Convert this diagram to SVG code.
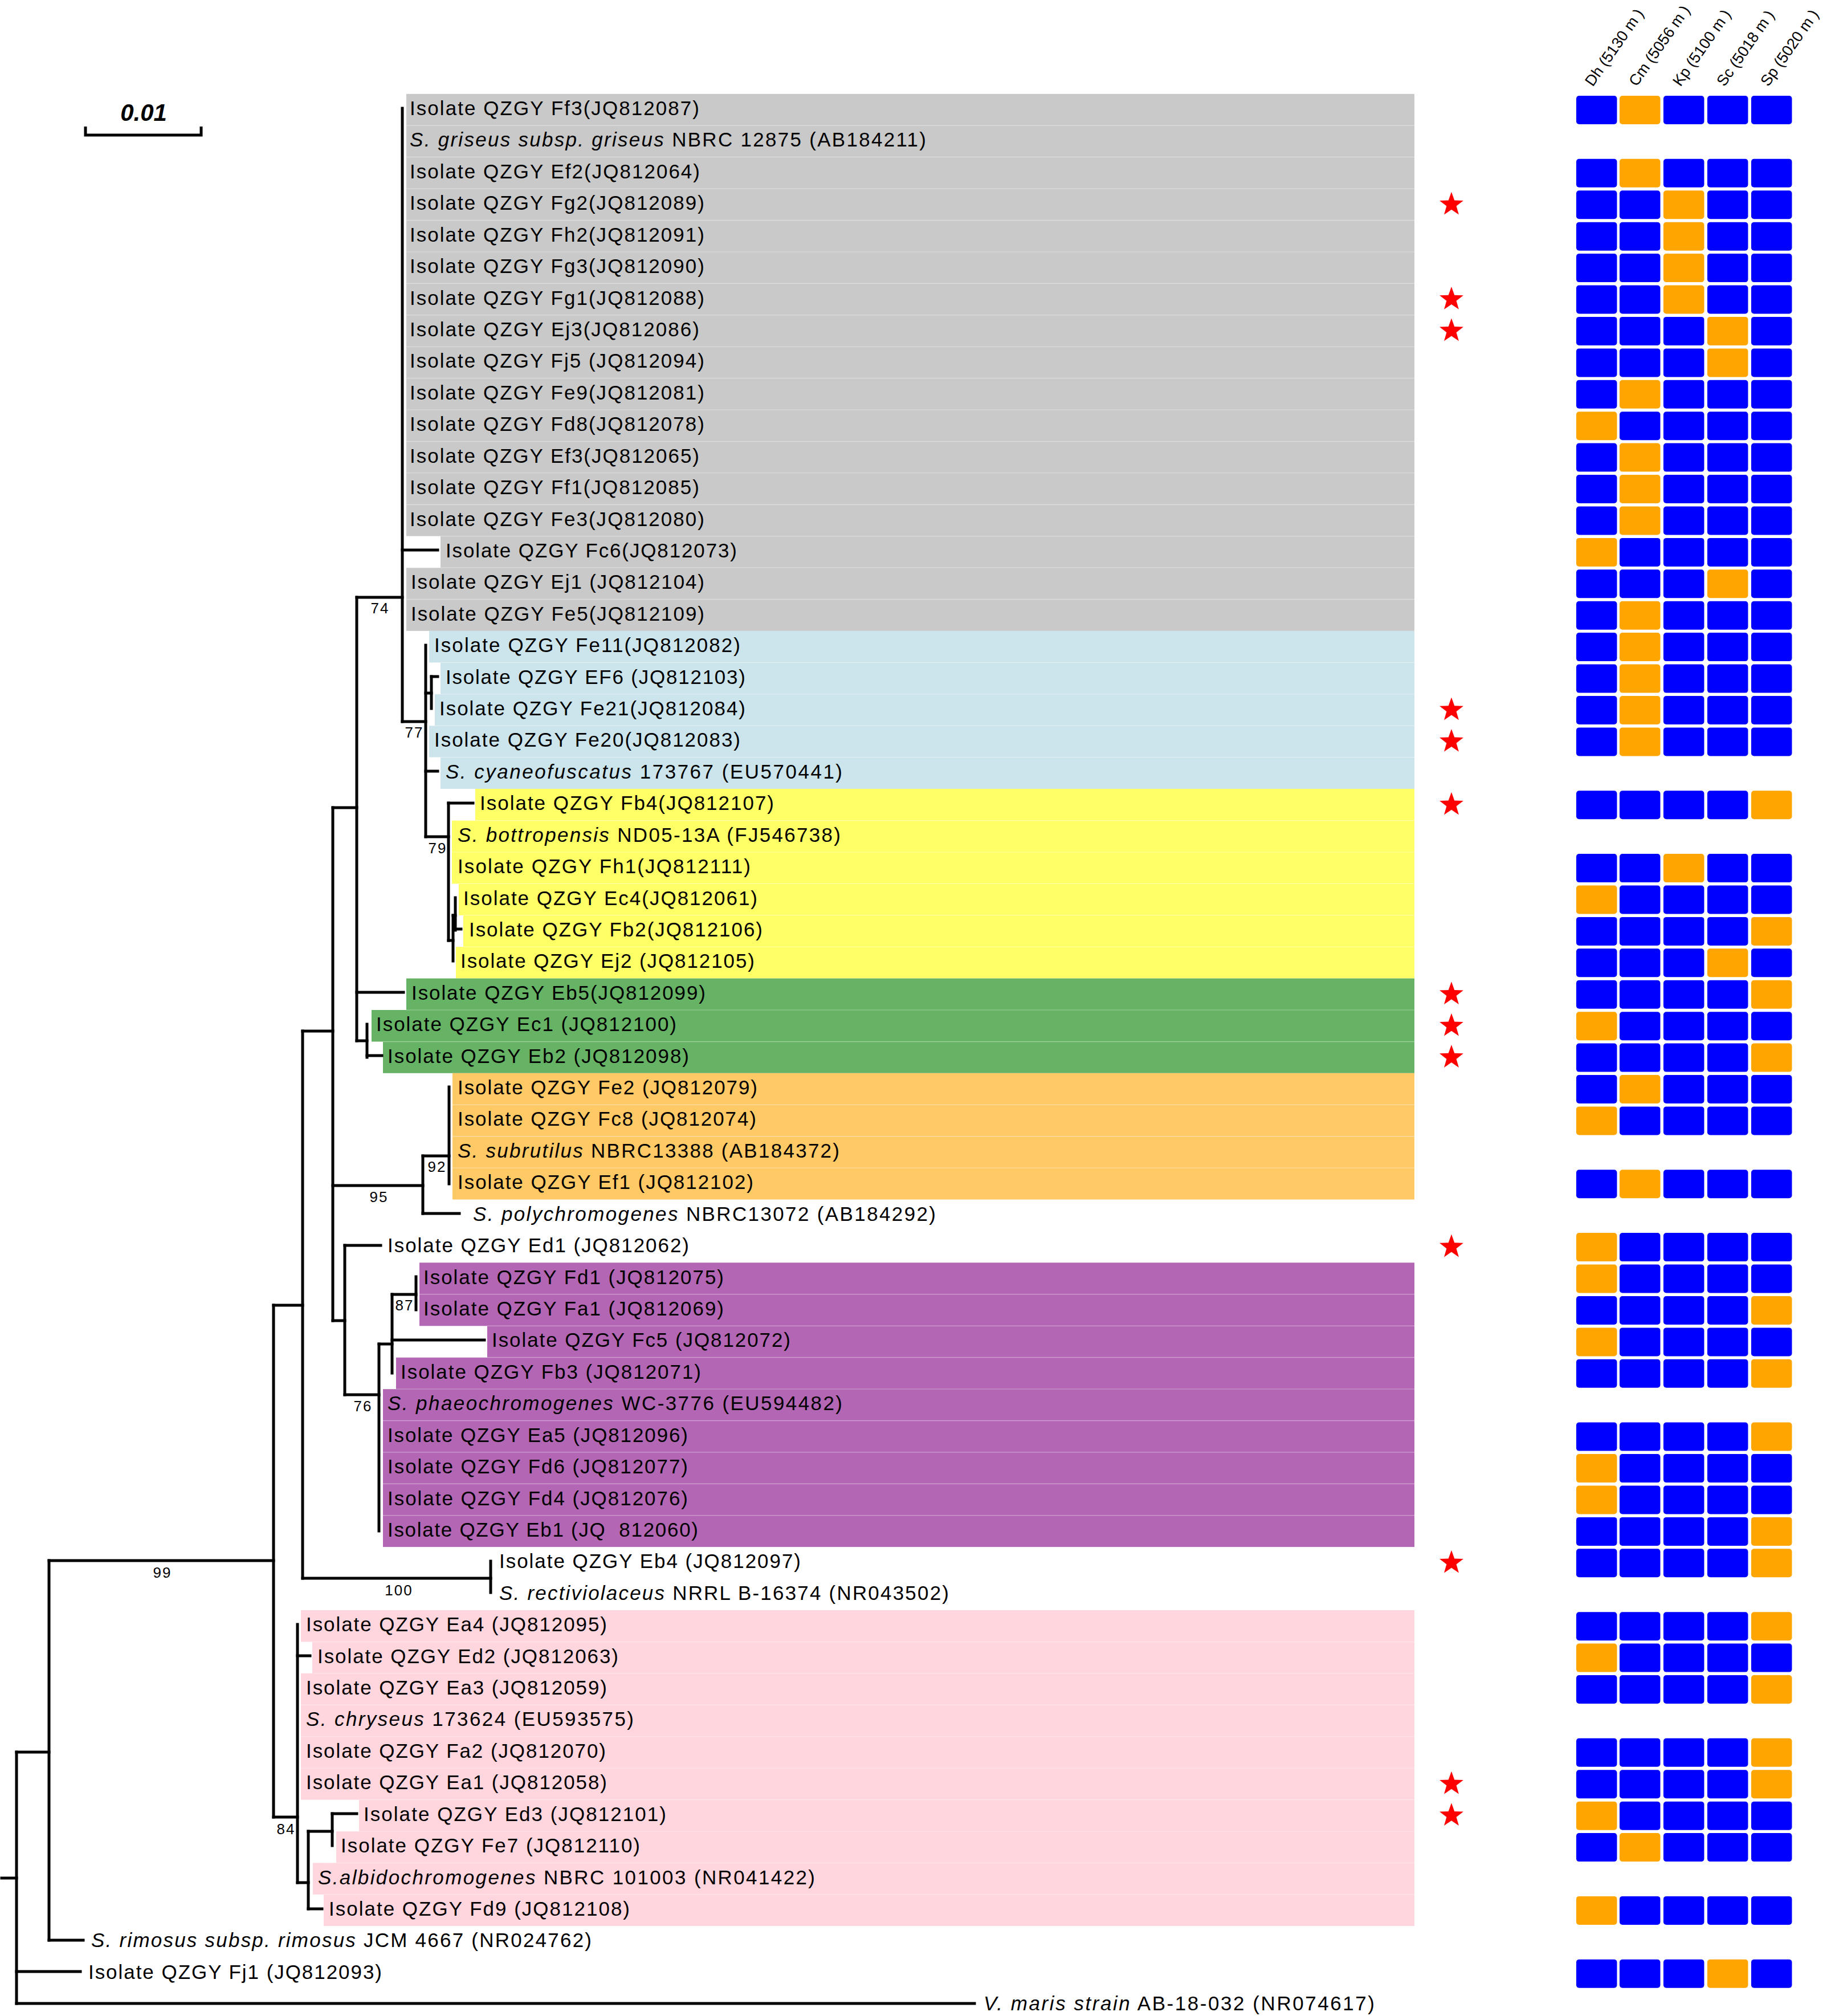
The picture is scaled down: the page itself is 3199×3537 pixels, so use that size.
<svg xmlns="http://www.w3.org/2000/svg" width="3199" height="3537" viewBox="0 0 3199 3537">
<style>
text{font-family:"Liberation Sans",Arial,sans-serif;fill:#000}
.lb{font-size:35px}
.i{font-style:italic}
.bs{font-size:26px;letter-spacing:2px;text-anchor:middle}
.hd{font-size:27px}
.tree path{fill:none;stroke:#000;stroke-width:5;stroke-linecap:square}
.gy{fill:#c9c9c9}.lbl{fill:#cce5ec}.yl{fill:#ffff66}.gn{fill:#66b366}.or{fill:#ffc966}.pu{fill:#b366b3}.pk{fill:#ffd6dd}
.b{fill:#0000ff}.o{fill:#ffa500}
.sep{stroke:#ffffff;stroke-opacity:0.25;stroke-width:1.5}
.star{fill:#ff0000}
</style>
<defs>
<polygon id="star" points="0,-22 5.29,-7.28 20.92,-6.8 8.56,2.78 12.93,17.8 0,9 -12.93,17.8 -8.56,2.78 -20.92,-6.8 -5.29,-7.28"/>
</defs>
<rect x="0" y="0" width="3199" height="3537" fill="#fff"/>

<g id="scale-bar">
<path d="M150,222 V237 H353 V222" fill="none" stroke="#000" stroke-width="5"/>
<text x="252" y="212" font-size="42" font-weight="bold" font-style="italic" text-anchor="middle">0.01</text>
</g>

<g id="header">
<text class="hd" transform="translate(2795,153) rotate(-55)">Dh (5130 m )</text>
<text class="hd" transform="translate(2872,153) rotate(-55)">Cm (5056 m )</text>
<text class="hd" transform="translate(2949,153) rotate(-55)">Kp (5100 m )</text>
<text class="hd" transform="translate(3026,153) rotate(-55)">Sc (5018 m )</text>
<text class="hd" transform="translate(3103,153) rotate(-55)">Sp (5020 m )</text>
</g>

<g id="bands">
<rect class="gy" x="713" y="164.8" width="1769" height="55.5"/>
<rect class="gy" x="713" y="220.2" width="1769" height="55.5"/>
<rect class="gy" x="713" y="275.6" width="1769" height="55.5"/>
<rect class="gy" x="713" y="331.1" width="1769" height="55.5"/>
<rect class="gy" x="713" y="386.5" width="1769" height="55.5"/>
<rect class="gy" x="713" y="441.9" width="1769" height="55.5"/>
<rect class="gy" x="713" y="497.3" width="1769" height="55.5"/>
<rect class="gy" x="713" y="552.7" width="1769" height="55.5"/>
<rect class="gy" x="713" y="608.2" width="1769" height="55.5"/>
<rect class="gy" x="713" y="663.6" width="1769" height="55.5"/>
<rect class="gy" x="713" y="719.0" width="1769" height="55.5"/>
<rect class="gy" x="713" y="774.4" width="1769" height="55.5"/>
<rect class="gy" x="713" y="829.8" width="1769" height="55.5"/>
<rect class="gy" x="713" y="885.3" width="1769" height="55.5"/>
<rect class="gy" x="773" y="940.7" width="1709" height="55.5"/>
<rect class="gy" x="713" y="996.1" width="1769" height="55.5"/>
<rect class="gy" x="713" y="1051.5" width="1769" height="55.4"/>
<rect class="lbl" x="753" y="1106.9" width="1729" height="55.5"/>
<rect class="lbl" x="773" y="1162.4" width="1709" height="55.5"/>
<rect class="lbl" x="763" y="1217.8" width="1719" height="55.5"/>
<rect class="lbl" x="753" y="1273.2" width="1729" height="55.5"/>
<rect class="lbl" x="773" y="1328.6" width="1709" height="55.4"/>
<rect class="yl" x="834" y="1384.0" width="1648" height="55.5"/>
<rect class="yl" x="793" y="1439.5" width="1689" height="55.5"/>
<rect class="yl" x="793" y="1494.9" width="1689" height="55.5"/>
<rect class="yl" x="805" y="1550.3" width="1677" height="55.5"/>
<rect class="yl" x="813" y="1605.7" width="1669" height="55.5"/>
<rect class="yl" x="800" y="1661.1" width="1682" height="55.5"/>
<rect class="gn" x="713" y="1716.6" width="1769" height="55.5"/>
<rect class="gn" x="652" y="1772.0" width="1830" height="55.5"/>
<rect class="gn" x="672" y="1827.4" width="1810" height="55.4"/>
<rect class="or" x="794" y="1882.8" width="1688" height="55.5"/>
<rect class="or" x="794" y="1938.2" width="1688" height="55.5"/>
<rect class="or" x="794" y="1993.7" width="1688" height="55.5"/>
<rect class="or" x="794" y="2049.1" width="1688" height="55.4"/>
<rect class="pu" x="736" y="2215.3" width="1746" height="55.5"/>
<rect class="pu" x="736" y="2270.8" width="1746" height="55.5"/>
<rect class="pu" x="855" y="2326.2" width="1627" height="55.5"/>
<rect class="pu" x="695" y="2381.6" width="1787" height="55.5"/>
<rect class="pu" x="672" y="2437.0" width="1810" height="55.5"/>
<rect class="pu" x="672" y="2492.4" width="1810" height="55.5"/>
<rect class="pu" x="672" y="2547.9" width="1810" height="55.5"/>
<rect class="pu" x="672" y="2603.3" width="1810" height="55.5"/>
<rect class="pu" x="672" y="2658.7" width="1810" height="55.4"/>
<rect class="pk" x="528" y="2825.0" width="1954" height="55.5"/>
<rect class="pk" x="548" y="2880.4" width="1934" height="55.5"/>
<rect class="pk" x="528" y="2935.8" width="1954" height="55.5"/>
<rect class="pk" x="528" y="2991.2" width="1954" height="55.5"/>
<rect class="pk" x="528" y="3046.6" width="1954" height="55.5"/>
<rect class="pk" x="528" y="3102.1" width="1954" height="55.5"/>
<rect class="pk" x="630" y="3157.5" width="1852" height="55.5"/>
<rect class="pk" x="590" y="3212.9" width="1892" height="55.5"/>
<rect class="pk" x="549" y="3268.3" width="1933" height="55.5"/>
<rect class="pk" x="568" y="3323.7" width="1914" height="55.4"/>
<path class="sep" d="M713,220.2H2482M713,275.6H2482M713,331.1H2482M713,386.5H2482M713,441.9H2482M713,497.3H2482M713,552.7H2482M713,608.2H2482M713,663.6H2482M713,719H2482M713,774.4H2482M713,829.8H2482M713,885.3H2482M713,940.7H2482M713,996.1H2482M713,1051.5H2482M773,1162.4H2482M763,1217.8H2482M753,1273.2H2482M753,1328.6H2482M793,1439.5H2482M793,1494.9H2482M805,1550.3H2482M813,1605.7H2482M800,1661.1H2482M713,1772H2482M672,1827.4H2482M794,1938.2H2482M794,1993.7H2482M794,2049.1H2482M736,2270.8H2482M855,2326.2H2482M695,2381.6H2482M672,2437H2482M672,2492.4H2482M672,2547.9H2482M672,2603.3H2482M672,2658.7H2482M548,2880.4H2482M548,2935.8H2482M528,2991.2H2482M528,3046.6H2482M528,3102.1H2482M630,3157.5H2482M590,3212.9H2482M568,3268.3H2482M568,3323.7H2482"/>
</g>

<g id="connectors" class="tree">
<path d="M3,3295 H29"/>
<path d="M29,3074 V3515"/>
<path d="M29,3074 H86"/>
<path d="M29,3459 H141"/>
<path d="M29,3515 H1710"/>
<path d="M86,2738 V3404"/>
<path d="M86,3404 H146"/>
<path d="M86,2738 H480"/>
<path d="M480,2290 V3188"/>
<path d="M480,3188 H522"/>
<path d="M522,2850 V3303"/>
<path d="M522,2905 H544"/>
<path d="M522,3303 H541"/>
<path d="M541,3213 V3349"/>
<path d="M541,3213 H583"/>
<path d="M541,3349 H565"/>
<path d="M583,3182 V3238"/>
<path d="M583,3182 H626"/>
<path d="M480,2290 H531"/>
<path d="M531,1809 V2769"/>
<path d="M531,2769 H861"/>
<path d="M861,2739 V2794"/>
<path d="M531,1809 H584"/>
<path d="M584,1417 V2317"/>
<path d="M584,1417 H626"/>
<path d="M626,1048 V1826"/>
<path d="M626,1048 H706"/>
<path d="M706,190 V1266"/>
<path d="M706,965 H768"/>
<path d="M706,1266 H747"/>
<path d="M747,1132 V1468"/>
<path d="M747,1216 H757"/>
<path d="M757,1187 V1243"/>
<path d="M757,1187 H768"/>
<path d="M747,1353 H768"/>
<path d="M747,1468 H787"/>
<path d="M787,1409 V1650"/>
<path d="M787,1409 H830"/>
<path d="M787,1650 H795"/>
<path d="M795,1606 V1686"/>
<path d="M795,1606 H799"/>
<path d="M799,1575 V1632"/>
<path d="M799,1630 H809"/>
<path d="M626,1741 H708"/>
<path d="M626,1826 H644"/>
<path d="M644,1797 V1855"/>
<path d="M644,1852 H670"/>
<path d="M584,2080 H742"/>
<path d="M742,2028 V2129"/>
<path d="M742,2028 H788"/>
<path d="M788,1907 V2077"/>
<path d="M742,2129 H806"/>
<path d="M584,2317 H605"/>
<path d="M605,2185 V2447"/>
<path d="M605,2185 H668"/>
<path d="M605,2447 H665"/>
<path d="M665,2358 V2686"/>
<path d="M665,2358 H688"/>
<path d="M688,2271 V2409"/>
<path d="M688,2271 H730"/>
<path d="M730,2240 V2298"/>
<path d="M688,2351 H850"/>
</g>

<g id="bootstrap">
<text class="bs" x="667" y="1076">74</text>
<text class="bs" x="727" y="1294">77</text>
<text class="bs" x="768" y="1497">79</text>
<text class="bs" x="767" y="2056">92</text>
<text class="bs" x="665" y="2109">95</text>
<text class="bs" x="710" y="2299">87</text>
<text class="bs" x="637" y="2476">76</text>
<text class="bs" x="700" y="2799">100</text>
<text class="bs" x="285" y="2768">99</text>
<text class="bs" x="502" y="3218">84</text>
</g>

<g id="labels">
<g id="n01"><text class="lb" x="719" y="202" textLength="508">Isolate QZGY Ff3(JQ812087)</text></g>
<g id="n02"><text class="lb" x="719" y="257.4" textLength="906"><tspan class="i">S. griseus subsp. griseus</tspan> NBRC 12875 (AB184211)</text></g>
<g id="n03"><text class="lb" x="719" y="312.8" textLength="509">Isolate QZGY Ef2(JQ812064)</text></g>
<g id="n04"><text class="lb" x="719" y="368.3" textLength="517">Isolate QZGY Fg2(JQ812089)</text></g>
<g id="n05"><text class="lb" x="719" y="423.7" textLength="517">Isolate QZGY Fh2(JQ812091)</text></g>
<g id="n06"><text class="lb" x="719" y="479.1" textLength="517">Isolate QZGY Fg3(JQ812090)</text></g>
<g id="n07"><text class="lb" x="719" y="534.5" textLength="517">Isolate QZGY Fg1(JQ812088)</text></g>
<g id="n08"><text class="lb" x="719" y="589.9" textLength="508">Isolate QZGY Ej3(JQ812086)</text></g>
<g id="n09"><text class="lb" x="719" y="645.4" textLength="517">Isolate QZGY Fj5 (JQ812094)</text></g>
<g id="n10"><text class="lb" x="719" y="700.8" textLength="517">Isolate QZGY Fe9(JQ812081)</text></g>
<g id="n11"><text class="lb" x="719" y="756.2" textLength="517">Isolate QZGY Fd8(JQ812078)</text></g>
<g id="n12"><text class="lb" x="719" y="811.6" textLength="508">Isolate QZGY Ef3(JQ812065)</text></g>
<g id="n13"><text class="lb" x="719" y="867.0" textLength="508">Isolate QZGY Ff1(JQ812085)</text></g>
<g id="n14"><text class="lb" x="719" y="922.5" textLength="517">Isolate QZGY Fe3(JQ812080)</text></g>
<g id="n15"><text class="lb" x="782" y="977.9" textLength="511">Isolate QZGY Fc6(JQ812073)</text></g>
<g id="n16"><text class="lb" x="721" y="1033.3" textLength="515">Isolate QZGY Ej1 (JQ812104)</text></g>
<g id="n17"><text class="lb" x="721" y="1088.7" textLength="515">Isolate QZGY Fe5(JQ812109)</text></g>
<g id="n18"><text class="lb" x="762" y="1144.1" textLength="537">Isolate QZGY Fe11(JQ812082)</text></g>
<g id="n19"><text class="lb" x="782" y="1199.6" textLength="526">Isolate QZGY EF6 (JQ812103)</text></g>
<g id="n20"><text class="lb" x="771" y="1255.0" textLength="537">Isolate QZGY Fe21(JQ812084)</text></g>
<g id="n21"><text class="lb" x="762" y="1310.4" textLength="537">Isolate QZGY Fe20(JQ812083)</text></g>
<g id="n22"><text class="lb" x="782" y="1365.8" textLength="696"><tspan class="i">S. cyaneofuscatus</tspan> 173767 (EU570441)</text></g>
<g id="n23"><text class="lb" x="842" y="1421.2" textLength="516">Isolate QZGY Fb4(JQ812107)</text></g>
<g id="n24"><text class="lb" x="803" y="1476.7" textLength="672"><tspan class="i">S. bottropensis</tspan> ND05-13A (FJ546738)</text></g>
<g id="n25"><text class="lb" x="803" y="1532.1" textLength="514">Isolate QZGY Fh1(JQ812111)</text></g>
<g id="n26"><text class="lb" x="813" y="1587.5" textLength="516">Isolate QZGY Ec4(JQ812061)</text></g>
<g id="n27"><text class="lb" x="823" y="1642.9" textLength="515">Isolate QZGY Fb2(JQ812106)</text></g>
<g id="n28"><text class="lb" x="808" y="1698.3" textLength="516">Isolate QZGY Ej2 (JQ812105)</text></g>
<g id="n29"><text class="lb" x="722" y="1753.8" textLength="516">Isolate QZGY Eb5(JQ812099)</text></g>
<g id="n30"><text class="lb" x="660" y="1809.2" textLength="527">Isolate QZGY Ec1 (JQ812100)</text></g>
<g id="n31"><text class="lb" x="680" y="1864.6" textLength="529">Isolate QZGY Eb2 (JQ812098)</text></g>
<g id="n32"><text class="lb" x="803" y="1920.0" textLength="526">Isolate QZGY Fe2 (JQ812079)</text></g>
<g id="n33"><text class="lb" x="803" y="1975.4" textLength="524">Isolate QZGY Fc8 (JQ812074)</text></g>
<g id="n34"><text class="lb" x="803" y="2030.9" textLength="670"><tspan class="i">S. subrutilus</tspan> NBRC13388 (AB184372)</text></g>
<g id="n35"><text class="lb" x="803" y="2086.3" textLength="519">Isolate QZGY Ef1 (JQ812102)</text></g>
<g id="n36"><text class="lb" x="830" y="2141.7" textLength="812"><tspan class="i">S. polychromogenes</tspan> NBRC13072 (AB184292)</text></g>
<g id="n37"><text class="lb" x="680" y="2197.1" textLength="529">Isolate QZGY Ed1 (JQ812062)</text></g>
<g id="n38"><text class="lb" x="743" y="2252.5" textLength="527">Isolate QZGY Fd1 (JQ812075)</text></g>
<g id="n39"><text class="lb" x="743" y="2308.0" textLength="527">Isolate QZGY Fa1 (JQ812069)</text></g>
<g id="n40"><text class="lb" x="863" y="2363.4" textLength="524">Isolate QZGY Fc5 (JQ812072)</text></g>
<g id="n41"><text class="lb" x="703" y="2418.8" textLength="527">Isolate QZGY Fb3 (JQ812071)</text></g>
<g id="n42"><text class="lb" x="680" y="2474.2" textLength="798"><tspan class="i">S. phaeochromogenes</tspan> WC-3776 (EU594482)</text></g>
<g id="n43"><text class="lb" x="680" y="2529.6" textLength="527">Isolate QZGY Ea5 (JQ812096)</text></g>
<g id="n44"><text class="lb" x="680" y="2585.1" textLength="527">Isolate QZGY Fd6 (JQ812077)</text></g>
<g id="n45"><text class="lb" x="680" y="2640.5" textLength="527">Isolate QZGY Fd4 (JQ812076)</text></g>
<g id="n46"><text class="lb" x="680" y="2695.9" textLength="545">Isolate QZGY Eb1 (JQ&#160;&#160;812060)</text></g>
<g id="n47"><text class="lb" x="876" y="2751.3" textLength="529">Isolate QZGY Eb4 (JQ812097)</text></g>
<g id="n48"><text class="lb" x="876" y="2806.7" textLength="789"><tspan class="i">S. rectiviolaceus</tspan> NRRL B-16374 (NR043502)</text></g>
<g id="n49"><text class="lb" x="537" y="2862.2" textLength="528">Isolate QZGY Ea4 (JQ812095)</text></g>
<g id="n50"><text class="lb" x="557" y="2917.6" textLength="528">Isolate QZGY Ed2 (JQ812063)</text></g>
<g id="n51"><text class="lb" x="537" y="2973.0" textLength="528">Isolate QZGY Ea3 (JQ812059)</text></g>
<g id="n52"><text class="lb" x="537" y="3028.4" textLength="575"><tspan class="i">S. chryseus</tspan> 173624 (EU593575)</text></g>
<g id="n53"><text class="lb" x="537" y="3083.8" textLength="526">Isolate QZGY Fa2 (JQ812070)</text></g>
<g id="n54"><text class="lb" x="537" y="3139.3" textLength="528">Isolate QZGY Ea1 (JQ812058)</text></g>
<g id="n55"><text class="lb" x="638" y="3194.7" textLength="531">Isolate QZGY Ed3 (JQ812101)</text></g>
<g id="n56"><text class="lb" x="598" y="3250.1" textLength="525">Isolate QZGY Fe7 (JQ812110)</text></g>
<g id="n57"><text class="lb" x="558" y="3305.5" textLength="872"><tspan class="i">S.albidochromogenes</tspan> NBRC 101003 (NR041422)</text></g>
<g id="n58"><text class="lb" x="577" y="3360.9" textLength="528">Isolate QZGY Fd9 (JQ812108)</text></g>
<g id="n59"><text class="lb" x="160" y="3416.4" textLength="878"><tspan class="i">S. rimosus subsp. rimosus</tspan> JCM 4667 (NR024762)</text></g>
<g id="n60"><text class="lb" x="155" y="3471.8" textLength="515">Isolate QZGY Fj1 (JQ812093)</text></g>
<g id="n61"><text class="lb" x="1726" y="3527.2" textLength="686"><tspan class="i">V. maris strain</tspan> AB-18-032 (NR074617)</text></g>
</g>

<g id="stars" class="star">
<use href="#star" x="2547" y="358.8"/>
<use href="#star" x="2547" y="525.0"/>
<use href="#star" x="2547" y="580.4"/>
<use href="#star" x="2547" y="1245.5"/>
<use href="#star" x="2547" y="1300.9"/>
<use href="#star" x="2547" y="1411.7"/>
<use href="#star" x="2547" y="1744.3"/>
<use href="#star" x="2547" y="1799.7"/>
<use href="#star" x="2547" y="1855.1"/>
<use href="#star" x="2547" y="2187.6"/>
<use href="#star" x="2547" y="2741.8"/>
<use href="#star" x="2547" y="3129.8"/>
<use href="#star" x="2547" y="3185.2"/>
</g>

<g id="grid">
<g transform="translate(0,168.0)"><rect class="b" x="2766" width="71.5" height="50" rx="5"/><rect class="o" x="2842" width="71.5" height="50" rx="5"/><rect class="b" x="2919" width="71.5" height="50" rx="5"/><rect class="b" x="2996" width="71.5" height="50" rx="5"/><rect class="b" x="3073" width="71.5" height="50" rx="5"/></g>
<g transform="translate(0,278.8)"><rect class="b" x="2766" width="71.5" height="50" rx="5"/><rect class="o" x="2842" width="71.5" height="50" rx="5"/><rect class="b" x="2919" width="71.5" height="50" rx="5"/><rect class="b" x="2996" width="71.5" height="50" rx="5"/><rect class="b" x="3073" width="71.5" height="50" rx="5"/></g>
<g transform="translate(0,334.3)"><rect class="b" x="2766" width="71.5" height="50" rx="5"/><rect class="b" x="2842" width="71.5" height="50" rx="5"/><rect class="o" x="2919" width="71.5" height="50" rx="5"/><rect class="b" x="2996" width="71.5" height="50" rx="5"/><rect class="b" x="3073" width="71.5" height="50" rx="5"/></g>
<g transform="translate(0,389.7)"><rect class="b" x="2766" width="71.5" height="50" rx="5"/><rect class="b" x="2842" width="71.5" height="50" rx="5"/><rect class="o" x="2919" width="71.5" height="50" rx="5"/><rect class="b" x="2996" width="71.5" height="50" rx="5"/><rect class="b" x="3073" width="71.5" height="50" rx="5"/></g>
<g transform="translate(0,445.1)"><rect class="b" x="2766" width="71.5" height="50" rx="5"/><rect class="b" x="2842" width="71.5" height="50" rx="5"/><rect class="o" x="2919" width="71.5" height="50" rx="5"/><rect class="b" x="2996" width="71.5" height="50" rx="5"/><rect class="b" x="3073" width="71.5" height="50" rx="5"/></g>
<g transform="translate(0,500.5)"><rect class="b" x="2766" width="71.5" height="50" rx="5"/><rect class="b" x="2842" width="71.5" height="50" rx="5"/><rect class="o" x="2919" width="71.5" height="50" rx="5"/><rect class="b" x="2996" width="71.5" height="50" rx="5"/><rect class="b" x="3073" width="71.5" height="50" rx="5"/></g>
<g transform="translate(0,555.9)"><rect class="b" x="2766" width="71.5" height="50" rx="5"/><rect class="b" x="2842" width="71.5" height="50" rx="5"/><rect class="b" x="2919" width="71.5" height="50" rx="5"/><rect class="o" x="2996" width="71.5" height="50" rx="5"/><rect class="b" x="3073" width="71.5" height="50" rx="5"/></g>
<g transform="translate(0,611.4)"><rect class="b" x="2766" width="71.5" height="50" rx="5"/><rect class="b" x="2842" width="71.5" height="50" rx="5"/><rect class="b" x="2919" width="71.5" height="50" rx="5"/><rect class="o" x="2996" width="71.5" height="50" rx="5"/><rect class="b" x="3073" width="71.5" height="50" rx="5"/></g>
<g transform="translate(0,666.8)"><rect class="b" x="2766" width="71.5" height="50" rx="5"/><rect class="o" x="2842" width="71.5" height="50" rx="5"/><rect class="b" x="2919" width="71.5" height="50" rx="5"/><rect class="b" x="2996" width="71.5" height="50" rx="5"/><rect class="b" x="3073" width="71.5" height="50" rx="5"/></g>
<g transform="translate(0,722.2)"><rect class="o" x="2766" width="71.5" height="50" rx="5"/><rect class="b" x="2842" width="71.5" height="50" rx="5"/><rect class="b" x="2919" width="71.5" height="50" rx="5"/><rect class="b" x="2996" width="71.5" height="50" rx="5"/><rect class="b" x="3073" width="71.5" height="50" rx="5"/></g>
<g transform="translate(0,777.6)"><rect class="b" x="2766" width="71.5" height="50" rx="5"/><rect class="o" x="2842" width="71.5" height="50" rx="5"/><rect class="b" x="2919" width="71.5" height="50" rx="5"/><rect class="b" x="2996" width="71.5" height="50" rx="5"/><rect class="b" x="3073" width="71.5" height="50" rx="5"/></g>
<g transform="translate(0,833.0)"><rect class="b" x="2766" width="71.5" height="50" rx="5"/><rect class="o" x="2842" width="71.5" height="50" rx="5"/><rect class="b" x="2919" width="71.5" height="50" rx="5"/><rect class="b" x="2996" width="71.5" height="50" rx="5"/><rect class="b" x="3073" width="71.5" height="50" rx="5"/></g>
<g transform="translate(0,888.5)"><rect class="b" x="2766" width="71.5" height="50" rx="5"/><rect class="o" x="2842" width="71.5" height="50" rx="5"/><rect class="b" x="2919" width="71.5" height="50" rx="5"/><rect class="b" x="2996" width="71.5" height="50" rx="5"/><rect class="b" x="3073" width="71.5" height="50" rx="5"/></g>
<g transform="translate(0,943.9)"><rect class="o" x="2766" width="71.5" height="50" rx="5"/><rect class="b" x="2842" width="71.5" height="50" rx="5"/><rect class="b" x="2919" width="71.5" height="50" rx="5"/><rect class="b" x="2996" width="71.5" height="50" rx="5"/><rect class="b" x="3073" width="71.5" height="50" rx="5"/></g>
<g transform="translate(0,999.3)"><rect class="b" x="2766" width="71.5" height="50" rx="5"/><rect class="b" x="2842" width="71.5" height="50" rx="5"/><rect class="b" x="2919" width="71.5" height="50" rx="5"/><rect class="o" x="2996" width="71.5" height="50" rx="5"/><rect class="b" x="3073" width="71.5" height="50" rx="5"/></g>
<g transform="translate(0,1054.7)"><rect class="b" x="2766" width="71.5" height="50" rx="5"/><rect class="o" x="2842" width="71.5" height="50" rx="5"/><rect class="b" x="2919" width="71.5" height="50" rx="5"/><rect class="b" x="2996" width="71.5" height="50" rx="5"/><rect class="b" x="3073" width="71.5" height="50" rx="5"/></g>
<g transform="translate(0,1110.1)"><rect class="b" x="2766" width="71.5" height="50" rx="5"/><rect class="o" x="2842" width="71.5" height="50" rx="5"/><rect class="b" x="2919" width="71.5" height="50" rx="5"/><rect class="b" x="2996" width="71.5" height="50" rx="5"/><rect class="b" x="3073" width="71.5" height="50" rx="5"/></g>
<g transform="translate(0,1165.6)"><rect class="b" x="2766" width="71.5" height="50" rx="5"/><rect class="o" x="2842" width="71.5" height="50" rx="5"/><rect class="b" x="2919" width="71.5" height="50" rx="5"/><rect class="b" x="2996" width="71.5" height="50" rx="5"/><rect class="b" x="3073" width="71.5" height="50" rx="5"/></g>
<g transform="translate(0,1221.0)"><rect class="b" x="2766" width="71.5" height="50" rx="5"/><rect class="o" x="2842" width="71.5" height="50" rx="5"/><rect class="b" x="2919" width="71.5" height="50" rx="5"/><rect class="b" x="2996" width="71.5" height="50" rx="5"/><rect class="b" x="3073" width="71.5" height="50" rx="5"/></g>
<g transform="translate(0,1276.4)"><rect class="b" x="2766" width="71.5" height="50" rx="5"/><rect class="o" x="2842" width="71.5" height="50" rx="5"/><rect class="b" x="2919" width="71.5" height="50" rx="5"/><rect class="b" x="2996" width="71.5" height="50" rx="5"/><rect class="b" x="3073" width="71.5" height="50" rx="5"/></g>
<g transform="translate(0,1387.2)"><rect class="b" x="2766" width="71.5" height="50" rx="5"/><rect class="b" x="2842" width="71.5" height="50" rx="5"/><rect class="b" x="2919" width="71.5" height="50" rx="5"/><rect class="b" x="2996" width="71.5" height="50" rx="5"/><rect class="o" x="3073" width="71.5" height="50" rx="5"/></g>
<g transform="translate(0,1498.1)"><rect class="b" x="2766" width="71.5" height="50" rx="5"/><rect class="b" x="2842" width="71.5" height="50" rx="5"/><rect class="o" x="2919" width="71.5" height="50" rx="5"/><rect class="b" x="2996" width="71.5" height="50" rx="5"/><rect class="b" x="3073" width="71.5" height="50" rx="5"/></g>
<g transform="translate(0,1553.5)"><rect class="o" x="2766" width="71.5" height="50" rx="5"/><rect class="b" x="2842" width="71.5" height="50" rx="5"/><rect class="b" x="2919" width="71.5" height="50" rx="5"/><rect class="b" x="2996" width="71.5" height="50" rx="5"/><rect class="b" x="3073" width="71.5" height="50" rx="5"/></g>
<g transform="translate(0,1608.9)"><rect class="b" x="2766" width="71.5" height="50" rx="5"/><rect class="b" x="2842" width="71.5" height="50" rx="5"/><rect class="b" x="2919" width="71.5" height="50" rx="5"/><rect class="b" x="2996" width="71.5" height="50" rx="5"/><rect class="o" x="3073" width="71.5" height="50" rx="5"/></g>
<g transform="translate(0,1664.3)"><rect class="b" x="2766" width="71.5" height="50" rx="5"/><rect class="b" x="2842" width="71.5" height="50" rx="5"/><rect class="b" x="2919" width="71.5" height="50" rx="5"/><rect class="o" x="2996" width="71.5" height="50" rx="5"/><rect class="b" x="3073" width="71.5" height="50" rx="5"/></g>
<g transform="translate(0,1719.8)"><rect class="b" x="2766" width="71.5" height="50" rx="5"/><rect class="b" x="2842" width="71.5" height="50" rx="5"/><rect class="b" x="2919" width="71.5" height="50" rx="5"/><rect class="b" x="2996" width="71.5" height="50" rx="5"/><rect class="o" x="3073" width="71.5" height="50" rx="5"/></g>
<g transform="translate(0,1775.2)"><rect class="o" x="2766" width="71.5" height="50" rx="5"/><rect class="b" x="2842" width="71.5" height="50" rx="5"/><rect class="b" x="2919" width="71.5" height="50" rx="5"/><rect class="b" x="2996" width="71.5" height="50" rx="5"/><rect class="b" x="3073" width="71.5" height="50" rx="5"/></g>
<g transform="translate(0,1830.6)"><rect class="b" x="2766" width="71.5" height="50" rx="5"/><rect class="b" x="2842" width="71.5" height="50" rx="5"/><rect class="b" x="2919" width="71.5" height="50" rx="5"/><rect class="b" x="2996" width="71.5" height="50" rx="5"/><rect class="o" x="3073" width="71.5" height="50" rx="5"/></g>
<g transform="translate(0,1886.0)"><rect class="b" x="2766" width="71.5" height="50" rx="5"/><rect class="o" x="2842" width="71.5" height="50" rx="5"/><rect class="b" x="2919" width="71.5" height="50" rx="5"/><rect class="b" x="2996" width="71.5" height="50" rx="5"/><rect class="b" x="3073" width="71.5" height="50" rx="5"/></g>
<g transform="translate(0,1941.4)"><rect class="o" x="2766" width="71.5" height="50" rx="5"/><rect class="b" x="2842" width="71.5" height="50" rx="5"/><rect class="b" x="2919" width="71.5" height="50" rx="5"/><rect class="b" x="2996" width="71.5" height="50" rx="5"/><rect class="b" x="3073" width="71.5" height="50" rx="5"/></g>
<g transform="translate(0,2052.3)"><rect class="b" x="2766" width="71.5" height="50" rx="5"/><rect class="o" x="2842" width="71.5" height="50" rx="5"/><rect class="b" x="2919" width="71.5" height="50" rx="5"/><rect class="b" x="2996" width="71.5" height="50" rx="5"/><rect class="b" x="3073" width="71.5" height="50" rx="5"/></g>
<g transform="translate(0,2163.1)"><rect class="o" x="2766" width="71.5" height="50" rx="5"/><rect class="b" x="2842" width="71.5" height="50" rx="5"/><rect class="b" x="2919" width="71.5" height="50" rx="5"/><rect class="b" x="2996" width="71.5" height="50" rx="5"/><rect class="b" x="3073" width="71.5" height="50" rx="5"/></g>
<g transform="translate(0,2218.5)"><rect class="o" x="2766" width="71.5" height="50" rx="5"/><rect class="b" x="2842" width="71.5" height="50" rx="5"/><rect class="b" x="2919" width="71.5" height="50" rx="5"/><rect class="b" x="2996" width="71.5" height="50" rx="5"/><rect class="b" x="3073" width="71.5" height="50" rx="5"/></g>
<g transform="translate(0,2274.0)"><rect class="b" x="2766" width="71.5" height="50" rx="5"/><rect class="b" x="2842" width="71.5" height="50" rx="5"/><rect class="b" x="2919" width="71.5" height="50" rx="5"/><rect class="b" x="2996" width="71.5" height="50" rx="5"/><rect class="o" x="3073" width="71.5" height="50" rx="5"/></g>
<g transform="translate(0,2329.4)"><rect class="o" x="2766" width="71.5" height="50" rx="5"/><rect class="b" x="2842" width="71.5" height="50" rx="5"/><rect class="b" x="2919" width="71.5" height="50" rx="5"/><rect class="b" x="2996" width="71.5" height="50" rx="5"/><rect class="b" x="3073" width="71.5" height="50" rx="5"/></g>
<g transform="translate(0,2384.8)"><rect class="b" x="2766" width="71.5" height="50" rx="5"/><rect class="b" x="2842" width="71.5" height="50" rx="5"/><rect class="b" x="2919" width="71.5" height="50" rx="5"/><rect class="b" x="2996" width="71.5" height="50" rx="5"/><rect class="o" x="3073" width="71.5" height="50" rx="5"/></g>
<g transform="translate(0,2495.6)"><rect class="b" x="2766" width="71.5" height="50" rx="5"/><rect class="b" x="2842" width="71.5" height="50" rx="5"/><rect class="b" x="2919" width="71.5" height="50" rx="5"/><rect class="b" x="2996" width="71.5" height="50" rx="5"/><rect class="o" x="3073" width="71.5" height="50" rx="5"/></g>
<g transform="translate(0,2551.1)"><rect class="o" x="2766" width="71.5" height="50" rx="5"/><rect class="b" x="2842" width="71.5" height="50" rx="5"/><rect class="b" x="2919" width="71.5" height="50" rx="5"/><rect class="b" x="2996" width="71.5" height="50" rx="5"/><rect class="b" x="3073" width="71.5" height="50" rx="5"/></g>
<g transform="translate(0,2606.5)"><rect class="o" x="2766" width="71.5" height="50" rx="5"/><rect class="b" x="2842" width="71.5" height="50" rx="5"/><rect class="b" x="2919" width="71.5" height="50" rx="5"/><rect class="b" x="2996" width="71.5" height="50" rx="5"/><rect class="b" x="3073" width="71.5" height="50" rx="5"/></g>
<g transform="translate(0,2661.9)"><rect class="b" x="2766" width="71.5" height="50" rx="5"/><rect class="b" x="2842" width="71.5" height="50" rx="5"/><rect class="b" x="2919" width="71.5" height="50" rx="5"/><rect class="b" x="2996" width="71.5" height="50" rx="5"/><rect class="o" x="3073" width="71.5" height="50" rx="5"/></g>
<g transform="translate(0,2717.3)"><rect class="b" x="2766" width="71.5" height="50" rx="5"/><rect class="b" x="2842" width="71.5" height="50" rx="5"/><rect class="b" x="2919" width="71.5" height="50" rx="5"/><rect class="b" x="2996" width="71.5" height="50" rx="5"/><rect class="o" x="3073" width="71.5" height="50" rx="5"/></g>
<g transform="translate(0,2828.2)"><rect class="b" x="2766" width="71.5" height="50" rx="5"/><rect class="b" x="2842" width="71.5" height="50" rx="5"/><rect class="b" x="2919" width="71.5" height="50" rx="5"/><rect class="b" x="2996" width="71.5" height="50" rx="5"/><rect class="o" x="3073" width="71.5" height="50" rx="5"/></g>
<g transform="translate(0,2883.6)"><rect class="o" x="2766" width="71.5" height="50" rx="5"/><rect class="b" x="2842" width="71.5" height="50" rx="5"/><rect class="b" x="2919" width="71.5" height="50" rx="5"/><rect class="b" x="2996" width="71.5" height="50" rx="5"/><rect class="b" x="3073" width="71.5" height="50" rx="5"/></g>
<g transform="translate(0,2939.0)"><rect class="b" x="2766" width="71.5" height="50" rx="5"/><rect class="b" x="2842" width="71.5" height="50" rx="5"/><rect class="b" x="2919" width="71.5" height="50" rx="5"/><rect class="b" x="2996" width="71.5" height="50" rx="5"/><rect class="o" x="3073" width="71.5" height="50" rx="5"/></g>
<g transform="translate(0,3049.8)"><rect class="b" x="2766" width="71.5" height="50" rx="5"/><rect class="b" x="2842" width="71.5" height="50" rx="5"/><rect class="b" x="2919" width="71.5" height="50" rx="5"/><rect class="b" x="2996" width="71.5" height="50" rx="5"/><rect class="o" x="3073" width="71.5" height="50" rx="5"/></g>
<g transform="translate(0,3105.3)"><rect class="b" x="2766" width="71.5" height="50" rx="5"/><rect class="b" x="2842" width="71.5" height="50" rx="5"/><rect class="b" x="2919" width="71.5" height="50" rx="5"/><rect class="b" x="2996" width="71.5" height="50" rx="5"/><rect class="o" x="3073" width="71.5" height="50" rx="5"/></g>
<g transform="translate(0,3160.7)"><rect class="o" x="2766" width="71.5" height="50" rx="5"/><rect class="b" x="2842" width="71.5" height="50" rx="5"/><rect class="b" x="2919" width="71.5" height="50" rx="5"/><rect class="b" x="2996" width="71.5" height="50" rx="5"/><rect class="b" x="3073" width="71.5" height="50" rx="5"/></g>
<g transform="translate(0,3216.1)"><rect class="b" x="2766" width="71.5" height="50" rx="5"/><rect class="o" x="2842" width="71.5" height="50" rx="5"/><rect class="b" x="2919" width="71.5" height="50" rx="5"/><rect class="b" x="2996" width="71.5" height="50" rx="5"/><rect class="b" x="3073" width="71.5" height="50" rx="5"/></g>
<g transform="translate(0,3326.9)"><rect class="o" x="2766" width="71.5" height="50" rx="5"/><rect class="b" x="2842" width="71.5" height="50" rx="5"/><rect class="b" x="2919" width="71.5" height="50" rx="5"/><rect class="b" x="2996" width="71.5" height="50" rx="5"/><rect class="b" x="3073" width="71.5" height="50" rx="5"/></g>
<g transform="translate(0,3437.8)"><rect class="b" x="2766" width="71.5" height="50" rx="5"/><rect class="b" x="2842" width="71.5" height="50" rx="5"/><rect class="b" x="2919" width="71.5" height="50" rx="5"/><rect class="o" x="2996" width="71.5" height="50" rx="5"/><rect class="b" x="3073" width="71.5" height="50" rx="5"/></g>
</g>
</svg>
